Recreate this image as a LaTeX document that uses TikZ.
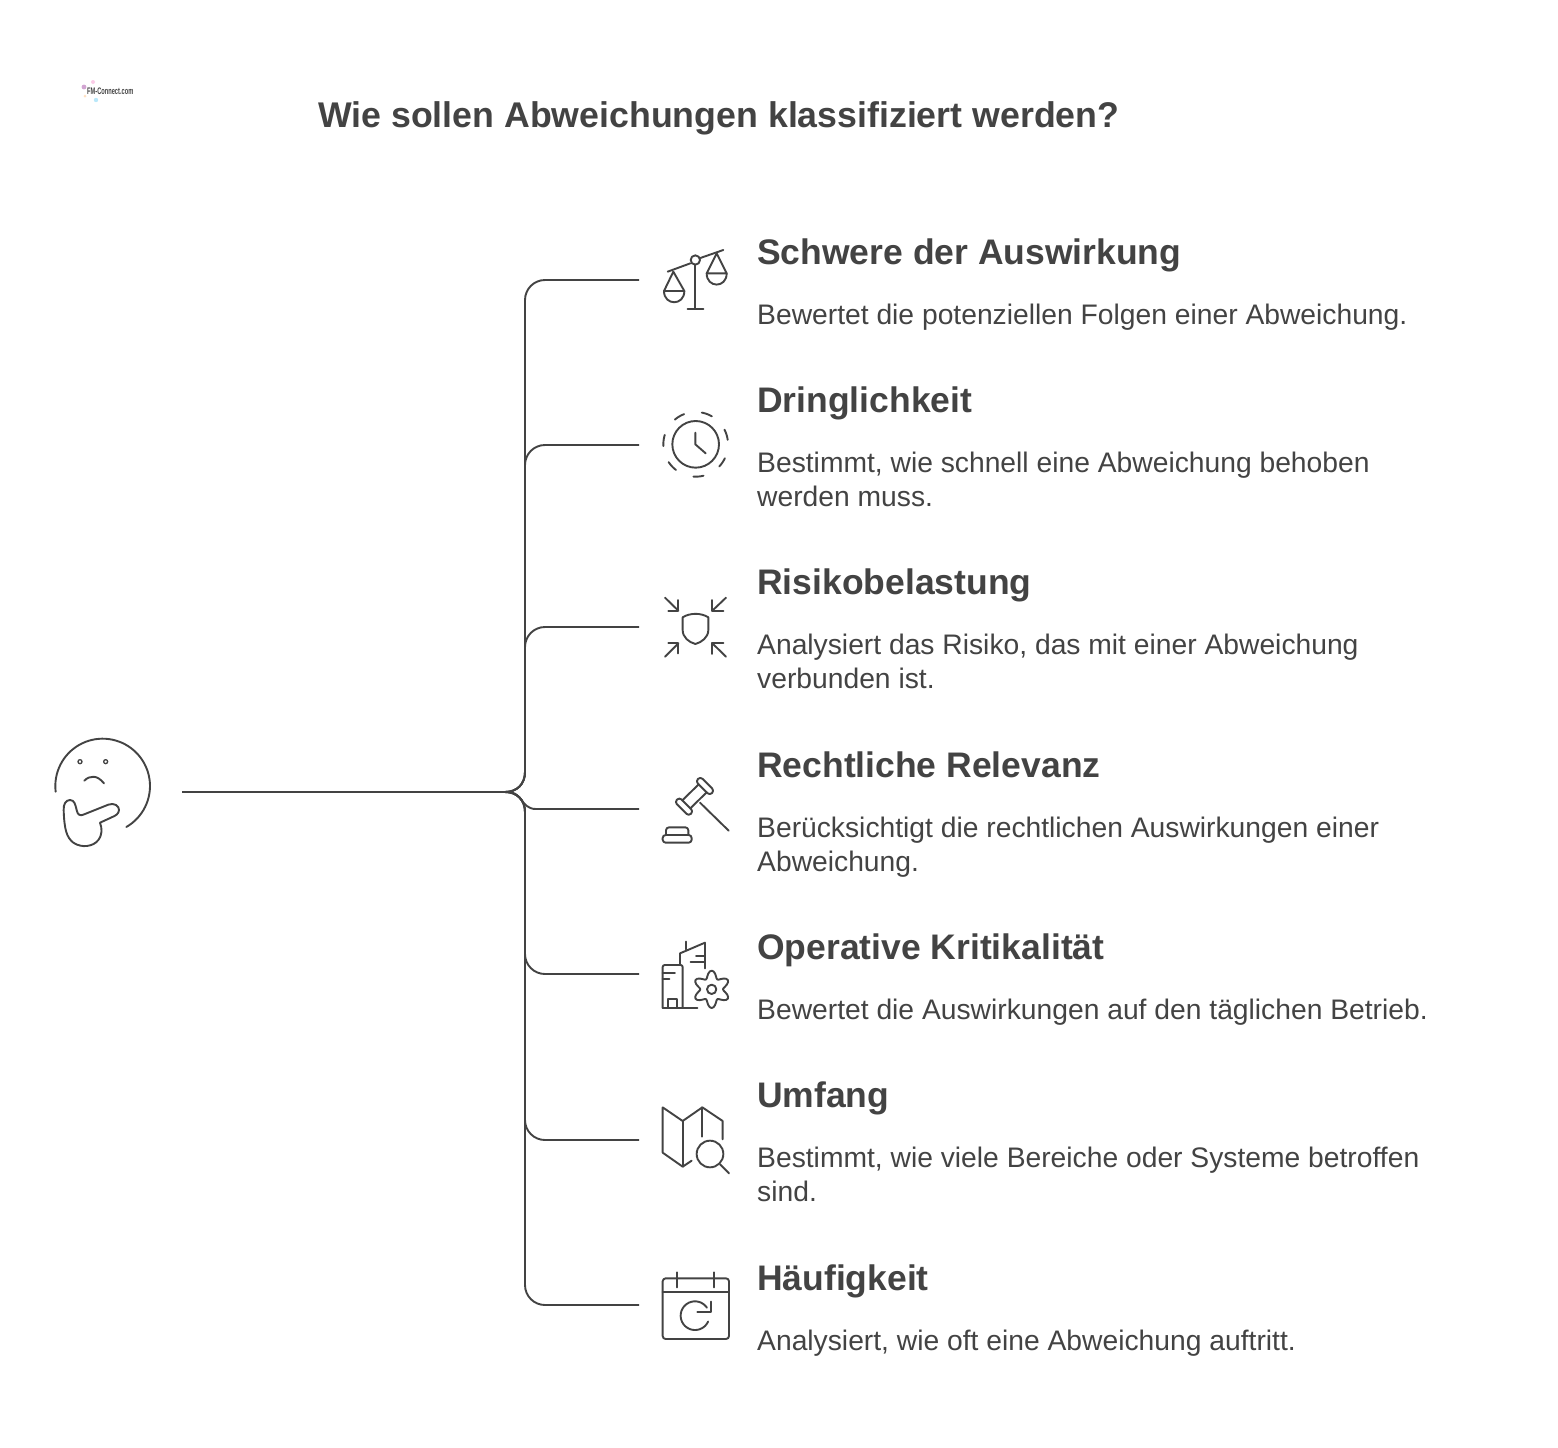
\documentclass[tikz,border=0pt]{standalone}
\usepackage{fontspec}
\setmainfont{Liberation Sans}
\definecolor{ink}{HTML}{434343}
\tikzset{
  conn/.style={draw=ink,line width=1.9pt},
  ico/.style={draw=ink,line width=1.9pt,line cap=round,line join=round},
  head/.style={anchor=north west,inner sep=0pt,text=ink,font=\fontsize{35.5}{42}\selectfont\bfseries},
  titletext/.style={anchor=north west,inner sep=0pt,text=ink,font=\fontsize{35.7}{42}\selectfont\bfseries},
  body/.style={anchor=north west,inner sep=0pt,text=ink,align=left,font=\fontsize{28.25}{34}\selectfont},
  zoomed/.style={shift={#1},scale=0.33333}
}
\begin{document}
\begin{tikzpicture}[x=1pt,y=-1pt]
\useasboundingbox (0,0) rectangle (1558,1448);
\fill[white] (0,0) rectangle (1558,1448);

% logo
\fill[violet!70!white,opacity=.5] (84,87) circle[radius=2.4];
\fill[magenta!50!white,opacity=.4] (93,82) circle[radius=2];
\fill[cyan!60!white,opacity=.45] (96,100) circle[radius=2.2];
\fill[orange!60!white,opacity=.4] (85,96) circle[radius=1.5];
\node[anchor=west,inner sep=0pt,text=ink,xscale=.6,transform shape,font=\fontsize{9.5}{10}\selectfont\bfseries] (logo) at (87,91) {FM-Connect.com};

% title
\node[titletext,anchor=base west] (title) at (318,127) {Wie sollen Abweichungen klassifiziert werden?};

% connectors
\coordinate (q) at (182,792);
\coordinate (hub) at (505,792);
\coordinate (e1) at (639,280);
\coordinate (e2) at (639,445);
\coordinate (e3) at (639,627);
\coordinate (e4) at (639,809);
\coordinate (e5) at (639,974);
\coordinate (e6) at (639,1140);
\coordinate (e7) at (639,1305);
\draw[conn] (q) -- (hub);
\foreach \e in {e1,e2,e3}
  \draw[conn] (hub) .. controls (517,792) and (525,784) .. (525,772) [rounded corners=20pt] |- (\e);
\foreach \e in {e5,e6,e7}
  \draw[conn] (hub) .. controls (517,792) and (525,800) .. (525,812) [rounded corners=20pt] |- (\e);
\draw[conn] (hub) .. controls (523,790) and (520,809) .. (536,809) -- (e4);

% thinking face
\begin{scope}[zoomed={(40,730)}]
  \draw[ico] plot[smooth,domain=187:-60,samples=60] ({188+142*cos(\x)},{168-142*sin(\x)});
  \draw[ico,line width=1.3pt] (120,95) circle[radius=6];
  \draw[ico,line width=1.3pt] (197,95) circle[radius=6];
  \draw[ico] (133,152) .. controls (150,135) and (172,135) .. (192,160);
  \draw[ico] (71,240) .. controls (70,222) and (78,210) .. (90,210) .. controls (104,210) and (106,225) .. (110,240) .. controls (113,255) and (120,258) .. (130,254) -- (205,224) .. controls (222,217) and (238,228) .. (237,240) .. controls (236,252) and (228,256) .. (215,262) -- (180,278) .. controls (186,295) and (188,312) .. (175,330) .. controls (160,350) and (125,355) .. (100,338) .. controls (80,322) and (73,300) .. (71,240) -- cycle;
\end{scope}

% scales
\begin{scope}[zoomed={(640,230)}]
  \draw[ico] (83,125) -- (151,100);
  \draw[ico] (181,84) -- (250,60);
  \draw[ico] (166,90) circle[radius=14];
  \draw[ico] (166,104) -- (166,236);
  \draw[ico] (143,236) -- (190,236);
  \draw[ico] (72,183) -- (100,125) -- (133,183) -- cycle;
  \draw[ico] (72,183) .. controls (72,228) and (133,228) .. (133,183);
  \draw[ico] (200,130) -- (230,70) -- (260,130) -- cycle;
  \draw[ico] (200,130) .. controls (200,175) and (260,175) .. (260,130);
\end{scope}

% clock
\begin{scope}[zoomed={(640,230)}]
  \draw[ico] (167,643) circle[radius=70];
  \draw[ico] (166,608) -- (166,643) -- (197,670);
  \foreach \a/\b in {130/111,79/60,27/8,-25.5/-43,-76/-94,-127.5/-146.6,163/183}
    \draw[ico] plot[smooth,domain=\a:\b,samples=7] ({167+97*cos(\x)},{643-97*sin(\x)});
\end{scope}

% shield with arrows
\begin{scope}[zoomed={(640,580)}]
  \draw[ico] (128,112) .. controls (150,98) and (183,98) .. (205,112) -- (205,150) .. controls (205,172) and (185,187) .. (166,192) .. controls (147,187) and (128,172) .. (128,150) -- cycle;
  \draw[ico] (75,53) -- (115,92);
  \draw[ico] (115,60) -- (115,92) -- (85,92);
  \draw[ico] (258,53) -- (217,92);
  \draw[ico] (217,60) -- (217,92) -- (250,92);
  \draw[ico] (75,230) -- (115,190);
  \draw[ico] (85,190) -- (115,190) -- (115,220);
  \draw[ico] (258,230) -- (217,190);
  \draw[ico] (250,190) -- (217,190) -- (217,222);
\end{scope}

% gavel
\begin{scope}[zoomed={(640,580)}]
  \draw[ico,rounded corners=3pt] (223,632) -- (209,646) -- (167,604) -- (181,590) -- cycle;
  \draw[ico,rounded corners=3pt] (160,694) -- (146,708) -- (104,666) -- (118,652) -- cycle;
  \draw[ico] (176,613) -- (127,661);
  \draw[ico] (200,637) -- (151,685);
  \draw[ico] (180,668) -- (266,752);
  \draw[ico,rounded corners=3pt] (78,765) -- (78,742) -- (145,742) -- (145,765);
  \draw[ico,rounded corners=3pt] (68,765) rectangle (155,788);
\end{scope}

% buildings with gear
\begin{scope}[zoomed={(640,930)}]
  \draw[ico,rounded corners=2pt] (68,233) -- (68,105) -- (128,105) -- (128,233);
  \draw[ico] (68,233) -- (172,233);
  \draw[ico] (85,233) -- (85,208) -- (112,208) -- (112,233);
  \draw[ico] (68,130) -- (105,130);
  \draw[ico] (68,148) -- (88,148);
  \draw[ico] (120,105) -- (120,70) -- (195,38) -- (195,115);
  \draw[ico] (137,35) -- (137,58);
  \draw[ico] (168,77) -- (195,77);
  \draw[ico] (152,97) -- (195,97);
  \draw[ico] (215,178) circle[radius=14];
  \draw[ico] plot[smooth cycle,domain=0:354,samples=60] ({215+(45+11*cos(6*(\x-90)))*cos(\x)},{178-(45+11*cos(6*(\x-90)))*sin(\x)});
\end{scope}

% map with magnifier
\begin{scope}[zoomed={(640,930)}]
  \draw[ico] (248,628) -- (248,573) -- (187,532) -- (128,573) -- (68,532) -- (68,668) -- (128,710) -- (155,692);
  \draw[ico] (128,573) -- (128,710);
  \draw[ico] (187,532) -- (187,620);
  \draw[ico] (210,672) circle[radius=40];
  \draw[ico] (240,703) -- (267,730);
\end{scope}

% calendar
\begin{scope}[zoomed={(640,1260)}]
  \draw[ico,rounded corners=3pt] (68,55) rectangle (267,237);
  \draw[ico] (68,97) -- (267,97);
  \draw[ico] (110,37) -- (110,82);
  \draw[ico] (222,37) -- (222,82);
  \draw[ico] plot[smooth,domain=34:336,samples=50] ({165+43*cos(\x)},{167-43*sin(\x)});
  \draw[ico] (172,157) -- (212,157) -- (212,125);
\end{scope}

% texts
\node[head,anchor=base west] (h1) at (757,264.2) {Schwere der Auswirkung};
\node[body] (b1) at (757,300) {\strut Bewertet die potenziellen Folgen einer Abweichung.};
\node[head,anchor=base west] (h2) at (757,412.2) {Dringlichkeit};
\node[body] (b2) at (757,448) {\strut Bestimmt, wie schnell eine Abweichung behoben\\werden muss.};
\node[head,anchor=base west] (h3) at (757,594.4) {Risikobelastung};
\node[body] (b3) at (757,630.4) {\strut Analysiert das Risiko, das mit einer Abweichung\\verbunden ist.};
\node[head,anchor=base west] (h4) at (757,777) {Rechtliche Relevanz};
\node[body] (b4) at (757,813) {\strut Berücksichtigt die rechtlichen Auswirkungen einer\\Abweichung.};
\node[head,anchor=base west] (h5) at (757,959.5) {Operative Kritikalität};
\node[body] (b5) at (757,995.5) {\strut Bewertet die Auswirkungen auf den täglichen Betrieb.};
\node[head,anchor=base west] (h6) at (757,1107.5) {Umfang};
\node[body] (b6) at (757,1143.7) {\strut Bestimmt, wie viele Bereiche oder Systeme betroffen\\sind.};
\node[head,anchor=base west] (h7) at (757,1290) {Häufigkeit};
\node[body] (b7) at (757,1326) {\strut Analysiert, wie oft eine Abweichung auftritt.};
\end{tikzpicture}
\end{document}
